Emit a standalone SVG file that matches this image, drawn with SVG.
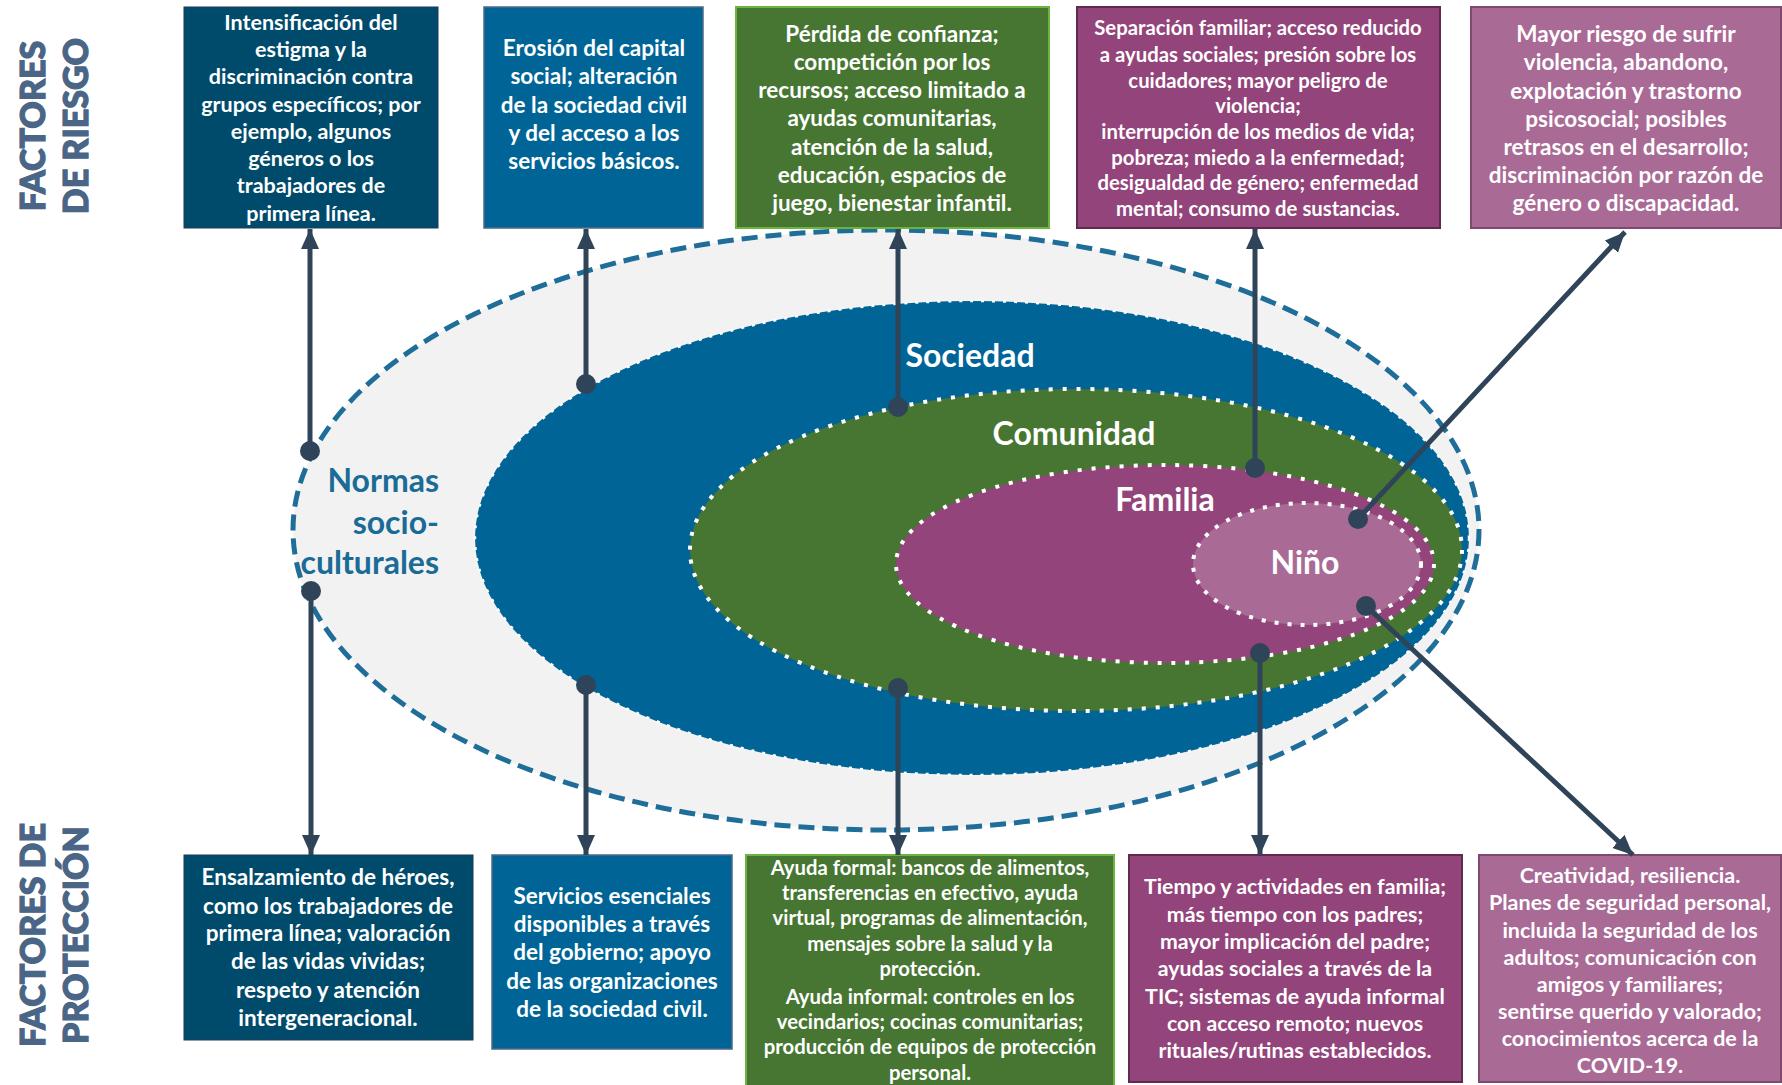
<svg xmlns="http://www.w3.org/2000/svg" width="1782" height="1085" viewBox="0 0 1782 1085">
<defs>
<style>
.bt{font-family:Lato,"Open Sans","Liberation Sans",sans-serif;font-weight:700;fill:#fff;text-anchor:middle}
.side{font-family:Lato,"Open Sans","Liberation Sans",sans-serif;font-weight:900;fill:#4a6585;stroke:#4a6585;stroke-width:1.2;text-anchor:middle;font-size:34px}
.lbl{font-family:Lato,"Open Sans","Liberation Sans",sans-serif;font-weight:700;fill:#fff;text-anchor:middle;font-size:32px}
.con{stroke:#2f4458;stroke-width:5;fill:none;marker-end:url(#ah)}
.dot{fill:#2f4458}
</style>
<marker id="ah" markerUnits="userSpaceOnUse" markerWidth="20" markerHeight="18" refX="20" refY="9" orient="auto">
<path d="M0,0 L20,9 L0,18 z" fill="#2f4458"/>
</marker>
</defs>
<rect width="1782" height="1085" fill="#fff"/>

<g id="side-labels">
<text class="side" transform="translate(45,126) rotate(-90)">FACTORES</text>
<text class="side" transform="translate(88,126) rotate(-90)">DE RIESGO</text>
<text class="side" transform="translate(45,935) rotate(-90)">FACTORES DE</text>
<text class="side" transform="translate(88,935) rotate(-90)">PROTECCIÓN</text>
</g>

<g id="ellipses">
<g id="normas">
<ellipse cx="886" cy="530" rx="593" ry="300" fill="#f2f2f2" stroke="#1f6d99" stroke-width="5" stroke-dasharray="16 8"/>
<text font-family="Lato,'Open Sans','Liberation Sans',sans-serif" font-weight="700" font-size="32" fill="#1a6b96" text-anchor="end"><tspan x="439" y="492">Normas</tspan><tspan x="439" y="534">socio-</tspan><tspan x="439" y="574">culturales</tspan></text>
</g>
<g id="sociedad">
<ellipse cx="972" cy="538" rx="497" ry="237" fill="#006596" stroke="#fff" stroke-width="2.5" stroke-dasharray="3 8"/>
<text class="lbl" x="970" y="367">Sociedad</text>
</g>
<g id="comunidad">
<ellipse cx="1076" cy="550" rx="386" ry="161" fill="#467631" stroke="#fff" stroke-width="4" stroke-dasharray="4 10"/>
<text class="lbl" x="1074" y="445">Comunidad</text>
</g>
<g id="familia">
<ellipse cx="1165" cy="564" rx="269" ry="99" fill="#93447a" stroke="#fff" stroke-width="4" stroke-dasharray="4 10"/>
<text class="lbl" x="1165" y="511">Familia</text>
</g>
<g id="nino">
<ellipse cx="1307" cy="564" rx="114" ry="61" fill="#aa6a96" stroke="#fff" stroke-width="4" stroke-dasharray="4 9"/>
<text class="lbl" x="1305" y="574">Niño</text>
</g>
</g>

<g id="box1">
<rect x="184" y="7" width="254" height="221" fill="#004b6b" stroke="#1e3a52" stroke-width="1"/>
<text class="bt" font-size="21.5"><tspan x="311" y="30">Intensificación del</tspan><tspan x="311" y="57">estigma y la</tspan><tspan x="311" y="84">discriminación contra</tspan><tspan x="311" y="112">grupos específicos; por</tspan><tspan x="311" y="139">ejemplo, algunos</tspan><tspan x="311" y="166">géneros o los</tspan><tspan x="311" y="193">trabajadores de</tspan><tspan x="311" y="221">primera línea.</tspan></text>
</g>
<g id="box2">
<rect x="484" y="7" width="219" height="221" fill="#006596" stroke="#4a6b85" stroke-width="1.5"/>
<text class="bt" font-size="22.5"><tspan x="594" y="56">Erosión del capital</tspan><tspan x="594" y="84">social; alteración</tspan><tspan x="594" y="113">de la sociedad civil</tspan><tspan x="594" y="141">y del acceso a los</tspan><tspan x="594" y="169">servicios básicos.</tspan></text>
</g>
<g id="box3">
<rect x="736" y="7" width="313" height="221" fill="#467631" stroke="#6cb33f" stroke-width="2"/>
<text class="bt" font-size="22.5"><tspan x="892" y="42">Pérdida de confianza;</tspan><tspan x="892" y="70">competición por los</tspan><tspan x="892" y="98">recursos; acceso limitado a</tspan><tspan x="892" y="126">ayudas comunitarias,</tspan><tspan x="892" y="155">atención de la salud,</tspan><tspan x="892" y="183">educación, espacios de</tspan><tspan x="892" y="211">juego, bienestar infantil.</tspan></text>
</g>
<g id="box4">
<rect x="1077" y="7" width="363" height="221" fill="#93447a" stroke="#5f2a4e" stroke-width="2"/>
<text class="bt" font-size="20.3"><tspan x="1258" y="35">Separación familiar; acceso reducido</tspan><tspan x="1258" y="62">a ayudas sociales; presión sobre los</tspan><tspan x="1258" y="88">cuidadores; mayor peligro de</tspan><tspan x="1258" y="113">violencia;</tspan><tspan x="1258" y="139">interrupción de los medios de vida;</tspan><tspan x="1258" y="165">pobreza; miedo a la enfermedad;</tspan><tspan x="1258" y="190">desigualdad de género; enfermedad</tspan><tspan x="1258" y="216">mental; consumo de sustancias.</tspan></text>
</g>
<g id="box5">
<rect x="1471" y="7" width="310" height="221" fill="#aa6a96" stroke="#7f4a6f" stroke-width="2"/>
<text class="bt" font-size="22.5"><tspan x="1626" y="42">Mayor riesgo de sufrir</tspan><tspan x="1626" y="70">violencia, abandono,</tspan><tspan x="1626" y="99">explotación y trastorno</tspan><tspan x="1626" y="127">psicosocial; posibles</tspan><tspan x="1626" y="155">retrasos en el desarrollo;</tspan><tspan x="1626" y="183">discriminación por razón de</tspan><tspan x="1626" y="211">género o discapacidad.</tspan></text>
</g>

<g id="box6">
<rect x="184" y="855" width="289" height="185" fill="#004b6b" stroke="#1e3a52" stroke-width="1"/>
<text class="bt" font-size="22.5"><tspan x="328" y="885">Ensalzamiento de héroes,</tspan><tspan x="328" y="914">como los trabajadores de</tspan><tspan x="328" y="941">primera línea; valoración</tspan><tspan x="328" y="969">de las vidas vividas;</tspan><tspan x="328" y="998">respeto y atención</tspan><tspan x="328" y="1026">intergeneracional.</tspan></text>
</g>
<g id="box7">
<rect x="492" y="855" width="240" height="194" fill="#006596" stroke="#4a6b85" stroke-width="1.5"/>
<text class="bt" font-size="22.5"><tspan x="612" y="904">Servicios esenciales</tspan><tspan x="612" y="932">disponibles a través</tspan><tspan x="612" y="960">del gobierno; apoyo</tspan><tspan x="612" y="989">de las organizaciones</tspan><tspan x="612" y="1017">de la sociedad civil.</tspan></text>
</g>
<g id="box8">
<rect x="746" y="855" width="368" height="232" fill="#467631" stroke="#6cb33f" stroke-width="2"/>
<text class="bt" font-size="20.3"><tspan x="930" y="875">Ayuda formal: bancos de alimentos,</tspan><tspan x="930" y="900">transferencias en efectivo, ayuda</tspan><tspan x="930" y="925">virtual, programas de alimentación,</tspan><tspan x="930" y="951">mensajes sobre la salud y la</tspan><tspan x="930" y="976">protección.</tspan><tspan x="930" y="1004">Ayuda informal: controles en los</tspan><tspan x="930" y="1029">vecindarios; cocinas comunitarias;</tspan><tspan x="930" y="1054">producción de equipos de protección</tspan><tspan x="930" y="1080">personal.</tspan></text>
</g>
<g id="box9">
<rect x="1129" y="855" width="333" height="227" fill="#93447a" stroke="#5f2a4e" stroke-width="2"/>
<text class="bt" font-size="21.3"><tspan x="1295" y="894">Tiempo y actividades en familia;</tspan><tspan x="1295" y="922">más tiempo con los padres;</tspan><tspan x="1295" y="949">mayor implicación del padre;</tspan><tspan x="1295" y="976">ayudas sociales a través de la</tspan><tspan x="1295" y="1004">TIC; sistemas de ayuda informal</tspan><tspan x="1295" y="1031">con acceso remoto; nuevos</tspan><tspan x="1295" y="1058">rituales/rutinas establecidos.</tspan></text>
</g>
<g id="box10">
<rect x="1479" y="855" width="302" height="227" fill="#aa6a96" stroke="#7f4a6f" stroke-width="2"/>
<text class="bt" font-size="21.5"><tspan x="1630" y="883">Creatividad, resiliencia.</tspan><tspan x="1630" y="910">Planes de seguridad personal,</tspan><tspan x="1630" y="938">incluida la seguridad de los</tspan><tspan x="1630" y="965">adultos; comunicación con</tspan><tspan x="1630" y="992">amigos y familiares;</tspan><tspan x="1630" y="1019">sentirse querido y valorado;</tspan><tspan x="1630" y="1046">conocimientos acerca de la</tspan><tspan x="1630" y="1073">COVID-19.</tspan></text>
</g>

<g id="connectors">
<line class="con" x1="310" y1="451" x2="310" y2="229"/>
<line class="con" x1="586" y1="384" x2="586" y2="229"/>
<line class="con" x1="898" y1="407" x2="898" y2="229"/>
<line class="con" x1="1255" y1="468" x2="1255" y2="229"/>
<line class="con" x1="1358" y1="519" x2="1625" y2="232"/>
<line class="con" x1="311" y1="591" x2="311" y2="855"/>
<line class="con" x1="586" y1="685" x2="586" y2="855"/>
<line class="con" x1="898" y1="688" x2="898" y2="855"/>
<line class="con" x1="1260" y1="653" x2="1260" y2="855"/>
<line class="con" x1="1366" y1="606" x2="1633" y2="855"/>
<circle class="dot" cx="310" cy="451" r="10"/>
<circle class="dot" cx="586" cy="384" r="10"/>
<circle class="dot" cx="898" cy="407" r="10"/>
<circle class="dot" cx="1255" cy="468" r="10"/>
<circle class="dot" cx="1358" cy="519" r="10"/>
<circle class="dot" cx="311" cy="591" r="10"/>
<circle class="dot" cx="586" cy="685" r="10"/>
<circle class="dot" cx="898" cy="688" r="10"/>
<circle class="dot" cx="1260" cy="653" r="10"/>
<circle class="dot" cx="1366" cy="606" r="10"/>
</g>
</svg>
